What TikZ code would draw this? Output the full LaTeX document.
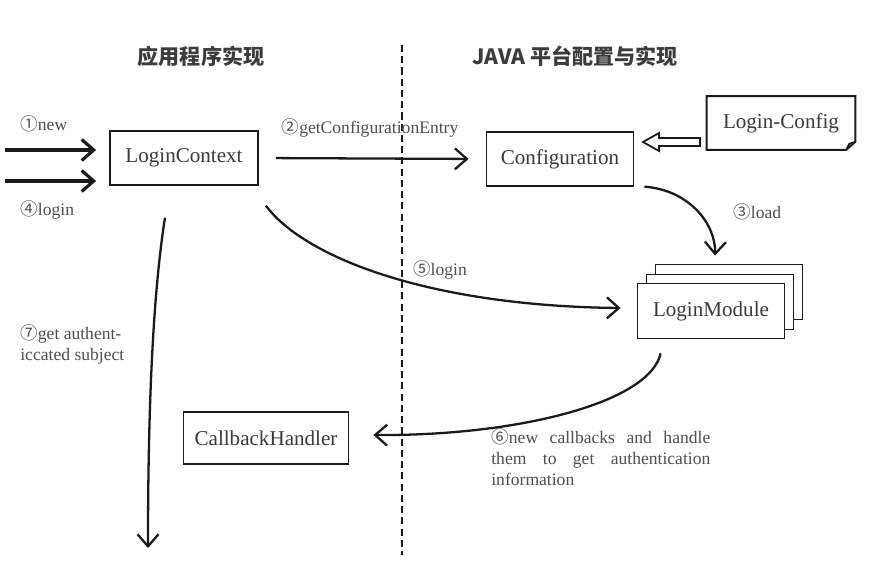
\documentclass[tikz,border=0pt]{standalone}
\usepackage{fontspec}
\setmainfont{Liberation Serif}
\newfontfamily\cjk{Noto Sans CJK SC}
\usepackage{tikz}
\usetikzlibrary{arrows.meta,positioning,calc}
\definecolor{ink}{HTML}{1A1A1A}
\definecolor{boxtext}{HTML}{3A3A3A}
\definecolor{lbltext}{HTML}{4E4E4E}
\newcommand{\cn}[1]{{\cjk #1}}

\begin{document}
\begin{tikzpicture}[x=0.02cm,y=-0.02cm,
  box/.style={draw=ink,line width=1.05pt,fill=white,inner sep=0pt,minimum height=1.07cm,text=boxtext,font=\fontsize{12}{14}\selectfont},
  lbl/.style={text=lbltext,inner sep=0pt,font=\fontsize{10}{12}\selectfont},
  title/.style={text=ink!85,font=\cjk\bfseries\fontsize{12}{14}\selectfont},
  flow/.style={ink,line width=1.3pt,-{Straight Barb[length=2.4mm,width=4.2mm]}},
  hollow/.style={draw=ink,line width=1pt,fill=white,line join=miter}]
\useasboundingbox (0,0) rectangle (876,579);
\coordinate (dtop) at (402,45);
\coordinate (dbot) at (402,555);
\draw[ink,line width=1.1pt,dash pattern=on 4pt off 2.4pt] (dtop) -- (dbot);
\node[title] (tapp) at (201,56) {应用程序实现};
\node[title] (tjava) at (575,56) {JAVA 平台配置与实现};
\node[box,minimum width=2.96cm] (ctx) at (184,158) {LoginContext};
\node[box,minimum width=2.94cm] (cfg) at (560,159) {Configuration};
\node[inner sep=0pt,minimum width=2.96cm,minimum height=1.06cm,text=boxtext,font=\fontsize{12}{14}\selectfont] (lcf) at (781,123) {Login-Config};
\draw[ink,line width=1.05pt] (lcf.north west) -- (lcf.north east) -- ($(lcf.south east)+(0,-8)$) -- ($(lcf.south east)+(-9,0)$) -- (lcf.south west) -- cycle;
\draw[ink,line width=1.05pt] ($(lcf.south east)+(-9,0)$) -- ($(lcf.south east)+(-6,-6)$) -- ($(lcf.south east)+(0,-8)$);
\node[box,minimum width=2.94cm,minimum height=1.1cm] (lm3) at (729,292) {};
\node[box,minimum width=2.94cm,minimum height=1.1cm] (lm2) at (720,302) {};
\node[box,minimum width=2.94cm,minimum height=1.1cm] (lm) at (711,311) {LoginModule};
\node[box,minimum width=3.3cm,minimum height=1.04cm] (cbh) at (266,438) {CallbackHandler};
\coordinate (newin) at (5,150);
\coordinate (loginin) at (5,181);
\coordinate (hs) at (700,142);
\coordinate (sub) at (148,548);
\draw[flow,line width=1.8pt,shorten >=2.6mm] (newin) -- (ctx.west |- newin);
\draw[flow,line width=1.8pt,shorten >=2.6mm] (loginin) -- (ctx.west |- loginin);
\node[lbl,anchor=west] (lnew) at (20,124) {\cn{①}new};
\node[lbl,anchor=west] (llogin) at (20,210) {\cn{④}login};
\draw[flow,shorten <=3.4mm,shorten >=3.4mm] (ctx.east) -- (cfg.west);
\node[lbl] (lget) at (370,128) {\cn{②}getConfigurationEntry};
\draw[hollow] (hs) ++(0,-4) -- ++(-41,0) -- ++(0,-5) -- ++(-16,9) -- ++(16,9) -- ++(0,-5) -- ++(41,0) -- cycle;
\draw[flow] ($(cfg.south east)+(10,0)$) .. controls (690,190) and (716,225) .. ($(lm3.north)+(-14,-8)$);
\node[lbl,anchor=west] (lload) at (733,212) {\cn{③}load};
\draw[flow] ($(ctx.south east)+(7,20)$) .. controls (305,258) and (430,306) .. ($(lm.west)+(-16,-3)$);
\node[lbl] (l5) at (440,270) {\cn{⑤}login};
\draw[flow] ($(lm.south west)+(24,14)$) .. controls (650,402) and (520,436) .. ($(cbh.east)+(24,-3)$);
\node[lbl,anchor=north west,text width=4.38cm,align=justify] (l6) at (491,428) {\cn{⑥}new callbacks and handle them to get authentication \mbox{information}};
\draw[flow] ($(ctx.south)+(-19,32)$) .. controls (152,300) and (148,420) .. (sub);
\node[lbl,anchor=north west,align=left] (l7) at (20,324) {\cn{⑦}get authent-\\iccated subject};
\end{tikzpicture}
\end{document}
